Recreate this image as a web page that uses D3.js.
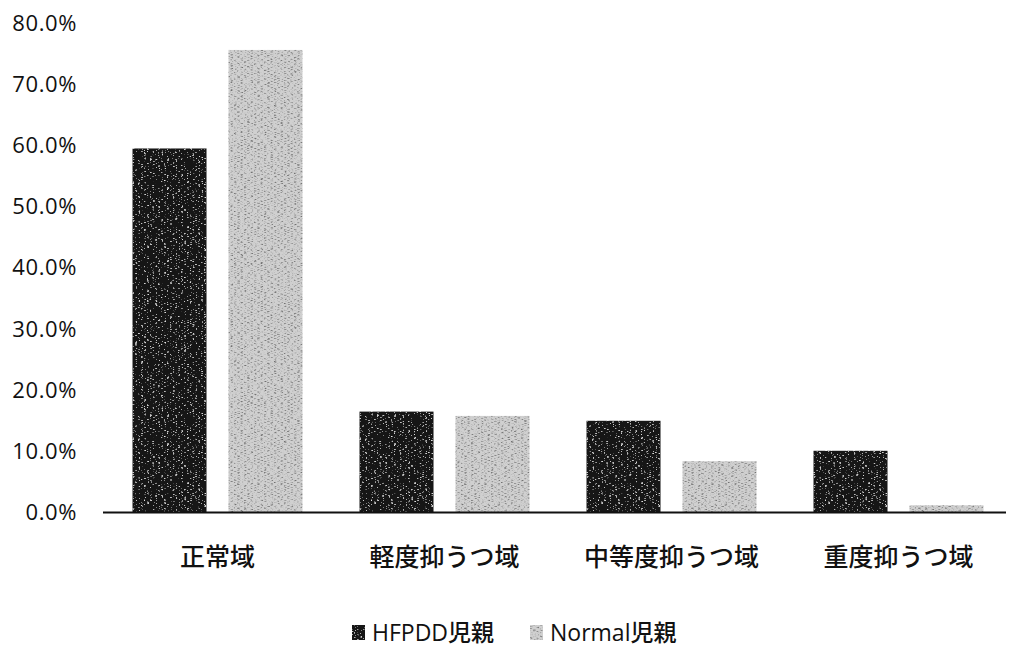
<!DOCTYPE html>
<html>
<head>
<meta charset="utf-8">
<script src="https://cdn.jsdelivr.net/npm/d3@7"></script>
<style>
  html, body { margin: 0; padding: 0; background: #fff; }
  svg { display: block; }
  .tick-label { font-family: "Open Sans", "Noto Sans", sans-serif; font-size: 22px; font-weight: 500; letter-spacing: 0.6px; fill: #111; }
  .cat-label { font-family: "Noto Sans CJK JP", sans-serif; font-size: 25px; font-weight: 500; fill: #111; }
  .legend-label { font-family: "Open Sans", "Noto Sans CJK JP", sans-serif; font-size: 23px; font-weight: 500; fill: #111; }
</style>
</head>
<body>
<svg id="chart" width="1011" height="652"></svg>
<script>
// Depression score bands and the share of parents in each
const categories = ["正常域", "軽度抑うつ域", "中等度抑うつ域", "重度抑うつ域"];
const seriesNames = ["HFPDD児親", "Normal児親"];
const hfpddValues = [59.4, 16.4, 14.9, 10.0];
const normalValues = [75.5, 15.7, 8.3, 1.1];
const yTicks = [0, 10, 20, 30, 40, 50, 60, 70, 80];

const svg = d3.select("#chart");
const plot = { left: 104, right: 1012, top: 22.4, bottom: 512 };

const defs = svg.append("defs");
// grainy print texture for the bars (horizontal streaks)
function grain(id, speckColor, freq, slope, offset, seed) {
  const f = defs.append("filter").attr("id", id)
    .attr("x", 0).attr("y", 0).attr("width", 1).attr("height", 1)
    .attr("filterUnits", "objectBoundingBox");
  f.append("feTurbulence").attr("type", "fractalNoise")
    .attr("baseFrequency", freq).attr("numOctaves", 2).attr("seed", seed).attr("result", "n");
  const c = d3.color(speckColor);
  f.append("feColorMatrix").attr("in", "n").attr("type", "matrix")
    .attr("values", `0 0 0 0 ${c.r/255}  0 0 0 0 ${c.g/255}  0 0 0 0 ${c.b/255}  ${slope} 0 0 0 ${offset}`)
    .attr("result", "specks");
  f.append("feComposite").attr("in", "specks").attr("in2", "SourceGraphic").attr("operator", "atop");
}
grain("grainDark", "#cfcfcf", "0.35 1.0", 5, -3.0, 4);
grain("grainLight", "#2a2a2a", "0.3 1.0", 3.5, -1.7, 7);

const seriesStyle = [
  { fill: "#121212", filter: "url(#grainDark)", values: hfpddValues },
  { fill: "#d0d0d0", filter: "url(#grainLight)", values: normalValues }
];

const y = d3.scaleLinear().domain([0, 80]).range([plot.bottom, plot.top]);
const x0 = d3.scaleBand().domain(categories).range([plot.left, plot.right]);
const x1 = d3.scaleBand().domain(seriesNames).range([0, x0.bandwidth()])
  .paddingInner(0.229).paddingOuter(0.297);

// y axis labels (no axis line or tick marks)
const yAxis = d3.axisLeft(y).tickValues(yTicks).tickSize(0).tickPadding(0)
  .tickFormat(d => d3.format(".1f")(d) + "%");
const yg = svg.append("g").attr("transform", "translate(77,0)").call(yAxis);
yg.select(".domain").remove();
yg.selectAll("text").attr("class", "tick-label").attr("dy", "0.35em")
  .attr("font-size", null).attr("font-family", null).attr("fill", null);

// bars
const groups = svg.append("g").selectAll("g").data(categories).join("g")
  .attr("transform", d => `translate(${x0(d)},0)`);
seriesStyle.forEach((s, si) => {
  groups.append("rect")
    .attr("x", x1(seriesNames[si]))
    .attr("width", x1.bandwidth())
    .attr("y", (d, i) => y(s.values[i]))
    .attr("height", (d, i) => y(0) - y(s.values[i]))
    .attr("fill", s.fill)
    .attr("filter", s.filter);
});

// baseline
svg.append("line")
  .attr("x1", 103).attr("x2", 1006)
  .attr("y1", y(0) + 0.5).attr("y2", y(0) + 0.5)
  .attr("stroke", "#111").attr("stroke-width", 2);

// category axis labels
const xAxis = d3.axisBottom(x0).tickSize(0).tickPadding(0);
const xg = svg.append("g").attr("transform", `translate(0,${y(0)})`).call(xAxis);
xg.select(".domain").remove();
xg.selectAll("text").attr("class", "cat-label").attr("y", 45).attr("dy", "0.35em")
  .attr("font-size", null).attr("font-family", null).attr("fill", null);

// legend
const legendItems = [
  { name: seriesNames[0], x: 352, style: seriesStyle[0] },
  { name: seriesNames[1], x: 530, style: seriesStyle[1] }
];
const lg = svg.append("g");
legendItems.forEach(it => {
  lg.append("rect").attr("x", it.x).attr("y", 625).attr("width", 13).attr("height", 15)
    .attr("fill", it.style.fill).attr("filter", it.style.filter);
  lg.append("text").attr("class", "legend-label").attr("x", it.x + 20).attr("y", 633)
    .attr("dy", "0.35em").text(it.name);
});
</script>
</body>
</html>
